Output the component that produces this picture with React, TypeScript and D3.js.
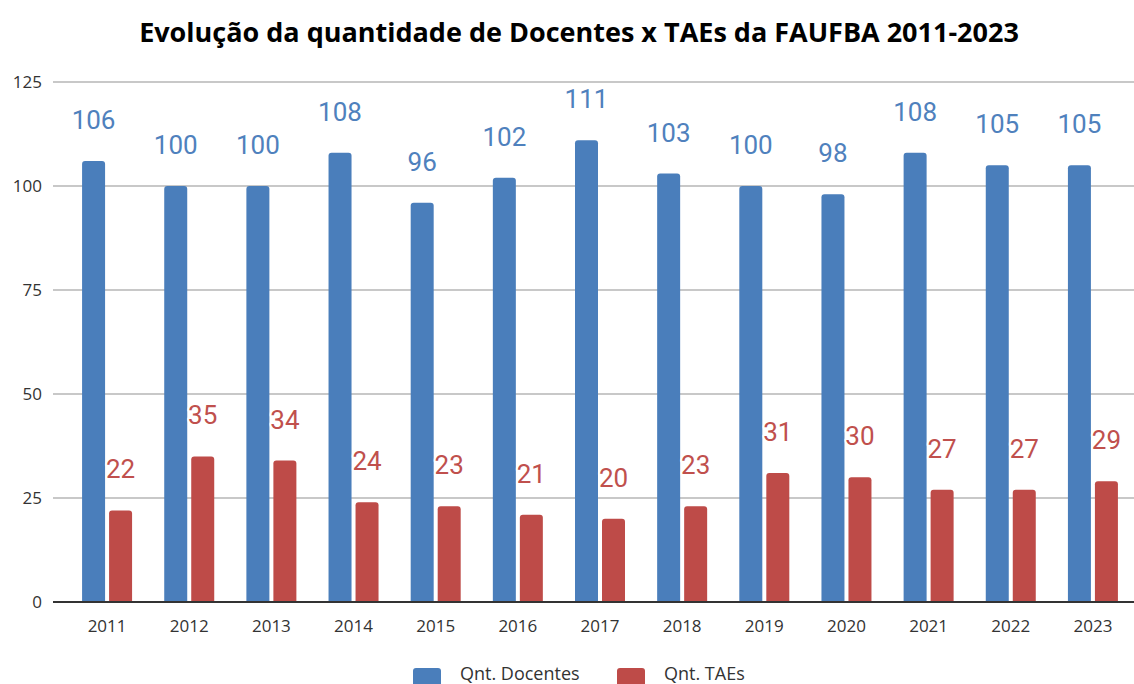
import React from "react";
import * as d3 from "d3";

const years = ["2011","2012","2013","2014","2015","2016","2017","2018","2019","2020","2021","2022","2023"];
const docentes = [106,100,100,108,96,102,111,103,100,98,108,105,105];
const taes = [22,35,34,24,23,21,20,23,31,30,27,27,29];
const yTicks = [0,25,50,75,100,125];
const seriesNames = ["Qnt. Docentes","Qnt. TAEs"];

const W = 1134, H = 684;
const BLUE = "#4a7ebb", RED = "#be4b48";
const LBLUE = "#4f81bd", LRED = "#c0504d";

function topRounded(x: number, y: number, w: number, h: number, r: number) {
  r = Math.min(r, h, w / 2);
  return `M${x},${y + h}V${y + r}Q${x},${y} ${x + r},${y}H${x + w - r}Q${x + w},${y} ${x + w},${y + r}V${y + h}Z`;
}

export default function App() {
  const x = d3.scaleBand().domain(years).range([66, 1134]);
  const y = d3.scaleLinear().domain([0, 125]).range([602, 82]);
  const bw = 23, gap = 4;
  return (
    <svg width={W} height={H} style={{ position: "absolute", left: 0, top: 0, background: "#fff" }}>
      <rect width={W} height={H} fill="#fff" />
      <text x={579} y={42} textAnchor="middle" fontFamily="'Open Sans', sans-serif" fontWeight="bold" fontSize={27} fill="#000">
        Evolução da quantidade de Docentes x TAEs da FAUFBA 2011-2023
      </text>
      {yTicks.map(t => (
        <g key={t}>
          {t > 0 && <line x1={53} x2={1134} y1={y(t)} y2={y(t)} stroke="#c8c8c8" strokeWidth={2} />}
          <text x={42} y={y(t)} dy="0.35em" textAnchor="end" fontFamily="'Open Sans', sans-serif" fontSize={17} fill="#333">{t}</text>
        </g>
      ))}
      {years.map((yr, i) => {
        const c = x(yr)! + x.bandwidth() / 2;
        const bx = c - gap / 2 - bw;
        const rx = c + gap / 2;
        return (
          <g key={yr}>
            <path d={topRounded(bx, y(docentes[i]), bw, y(0) - y(docentes[i]), 3)} fill={BLUE} />
            <path d={topRounded(rx, y(taes[i]), bw, y(0) - y(taes[i]), 3)} fill={RED} />
            <text x={c} y={626} dy="0.35em" textAnchor="middle" fontFamily="'Open Sans', sans-serif" fontSize={17} fill="#333">{yr}</text>
          </g>
        );
      })}
      {years.map((yr, i) => {
        const c = x(yr)! + x.bandwidth() / 2;
        const bcx = c - gap / 2 - bw / 2;
        const rcx = c + gap / 2 + bw / 2;
        return (
          <g key={"l" + yr} fontFamily="Roboto, sans-serif" fontSize={26} textAnchor="middle">
            <text x={bcx} y={y(docentes[i]) - 32} fill={LBLUE} stroke="#fff" strokeWidth={4} paintOrder="stroke" strokeLinejoin="round">{docentes[i]}</text>
            <text x={rcx} y={y(taes[i]) - 32} fill={LRED} stroke="#fff" strokeWidth={4} paintOrder="stroke" strokeLinejoin="round">{taes[i]}</text>
          </g>
        );
      })}
      <line x1={53} x2={1134} y1={y(0)} y2={y(0)} stroke="#333" strokeWidth={2} />
      <g fontFamily="'Open Sans', sans-serif" fontSize={18} fill="#333">
        <rect x={413} y={668} width={28} height={28} rx={3} fill={BLUE} />
        <text x={460} y={674} dy="0.35em">{seriesNames[0]}</text>
        <rect x={617} y={668} width={28} height={28} rx={3} fill={RED} />
        <text x={664} y={674} dy="0.35em">{seriesNames[1]}</text>
      </g>
    </svg>
  );
}
